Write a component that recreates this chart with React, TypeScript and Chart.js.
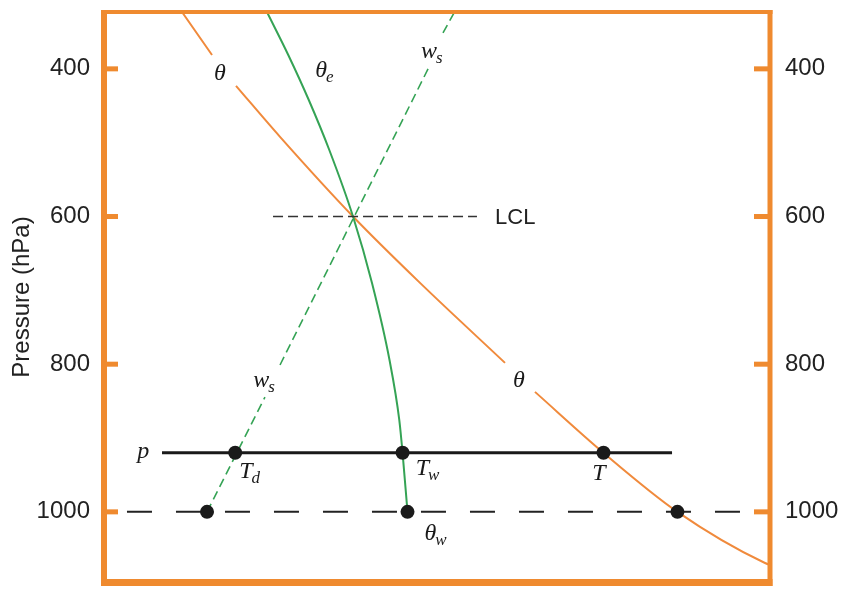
import React, { useEffect, useRef } from 'react';
import { Chart, registerables } from 'chart.js';

Chart.register(...registerables);

// Pressure axis (hPa), drawn top-down
const pressureTicks = [400, 600, 800, 1000];
const pressureTop = 323;
const pressureBottom = 1095;

// Horizontal (temperature-like) axis, unlabelled
const tempMin = 0;
const tempMax = 100;

// Dry adiabat θ (null breaks the line where the θ labels sit)
const thetaT = [11.71, 16.22, 18.0, 19.82, 26.43, 37.39, 47.45, 60.21, 62.5, 64.71, 75.0, 86.1, 99.25, 100.5];
const thetaP = [323, 381.2, null, 423.0, 492.1, 600, 689.9, 798.2, null, 837.5, 920, 1000, 1069.3, 1073.4];

// Moist adiabat θe through the LCL
const thetaET = [24.47, 27.67, 30.75, 33.83, 37.39, 40.24, 42.87, 44.34, 44.83, 45.57];
const thetaEP = [323, 381.2, 442.2, 509.9, 600, 690.1, 794.4, 875.6, 920, 1000];

// Saturation mixing ratio line ws (null breaks the line at the ws labels)
const wsT = [15.47, 24.17, 25.3, 26.43, 48.95, 49.9, 50.9, 52.63];
const wsP = [1000, 844.5, null, 801.1, 394.8, null, 351.4, 323];

// LCL marker line
const lclT = [25.38, 56.0];
const lclP = 600;

// Parcel pressure level p and its three points (Td, Tw, T)
const parcelLineT = [8.71, 85.29];
const parcelP = 920;
const parcelPointsT = [19.7, 44.83, 75.0];

// 1000 hPa reference level and its three points
const surfaceLineT = [3.45, 95.8];
const surfaceP = 1000;
const surfacePointsT = [15.47, 45.57, 86.1];

// Curve / point annotations: main glyph, optional subscript, anchor (temp, pressure)
const annotationMain = ['θ', 'θ', 'θ', 'w', 'w', 'p', 'T', 'T', 'T', 'θ'];
const annotationSub = ['', '', 'e', 's', 's', '', 'd', 'w', '', 'w'];
const annotationT = [17.42, 62.31, 32.6, 48.8, 23.6, 5.9, 21.3, 47.8, 74.32, 49.0];
const annotationP = [415.1, 830.9, 411.0, 385.3, 830.9, 927.1, 954.2, 950.1, 956.9, 1038.2];

const lclLabel = 'LCL';
const lclLabelT = 58.71;

const ORANGE = '#ef8a2f';
const CURVE_ORANGE = '#f08a3c';
const GREEN = '#35a355';
const INK = '#1a1a1a';
const SANS = "'Liberation Sans', Arial, Helvetica, sans-serif";
const SERIF = "'Liberation Serif', 'Times New Roman', 'DejaVu Serif', serif";

const pts = (ts: number[], ps: (number | null)[]) => ts.map((t, i) => ({ x: t, y: ps[i] }));
const flat = (ts: number[], p: number) => ts.map((t) => ({ x: t, y: p }));

const framePlugin = {
  id: 'skewFrame',
  afterDatasetsDraw(chart: any) {
    const { ctx, chartArea, scales } = chart;
    const { left, right, top, bottom } = chartArea;
    const xs = scales.x;
    const ys = scales.y;
    ctx.save();

    // orange frame
    ctx.fillStyle = ORANGE;
    ctx.fillRect(left - 3, top - 2, 6, bottom - top + 6);
    ctx.fillRect(left - 3, top - 2, right - left + 5.5, 4);
    ctx.fillRect(right - 2.5, top - 2, 5, bottom - top + 6);
    ctx.fillRect(left - 3, bottom - 3, right - left + 5.5, 7);

    // inward tick marks on both sides
    for (const v of pressureTicks) {
      const y = ys.getPixelForValue(v);
      ctx.fillRect(left, y - 2.5, 14, 5);
      ctx.fillRect(right - 16, y - 2.5, 16, 5);
    }

    // italic curve / point annotations
    ctx.fillStyle = INK;
    ctx.textBaseline = 'alphabetic';
    annotationMain.forEach((main, i) => {
      const x = xs.getPixelForValue(annotationT[i]);
      const y = ys.getPixelForValue(annotationP[i]);
      ctx.font = `italic 24px ${SERIF}`;
      ctx.textAlign = 'center';
      ctx.fillText(main, x, y);
      const sub = annotationSub[i];
      if (sub) {
        const w = ctx.measureText(main).width;
        ctx.font = `italic 17px ${SERIF}`;
        ctx.textAlign = 'left';
        ctx.fillText(sub, x + w / 2 - 1, y + 5);
      }
    });

    // LCL label
    ctx.font = `22px ${SANS}`;
    ctx.textAlign = 'left';
    ctx.textBaseline = 'middle';
    ctx.fillStyle = '#222';
    ctx.fillText(lclLabel, xs.getPixelForValue(lclLabelT), ys.getPixelForValue(lclP) + 1);

    ctx.restore();
  },
};

export default function App() {
  const canvasRef = useRef<HTMLCanvasElement | null>(null);

  useEffect(() => {
    const canvas = canvasRef.current;
    if (!canvas) return;

    const tickFont = { family: SANS, size: 24 };
    const fixedTicks = (scale: any) => {
      scale.ticks = pressureTicks.map((v) => ({ value: v }));
    };
    const fitTo = (width: number) => (s: any) => {
      s.width = width;
      s.paddingTop = 0;
      s.paddingBottom = 0;
    };

    const chart = new Chart(canvas, {
      type: 'line',
      data: {
        datasets: [
          {
            label: 'parcel points',
            data: flat(parcelPointsT, parcelP),
            showLine: false,
            pointRadius: 7,
            pointBackgroundColor: INK,
            pointBorderWidth: 0,
          },
          {
            label: '1000 hPa points',
            data: flat(surfacePointsT, surfaceP),
            showLine: false,
            pointRadius: 7,
            pointBackgroundColor: INK,
            pointBorderWidth: 0,
          },
          {
            label: 'p',
            data: flat(parcelLineT, parcelP),
            borderColor: INK,
            borderWidth: 3,
            pointRadius: 0,
          },
          {
            label: 'LCL',
            data: flat(lclT, lclP),
            borderColor: '#333',
            borderWidth: 1.5,
            borderDash: [10, 5],
            pointRadius: 0,
          },
          {
            label: '1000 hPa',
            data: flat(surfaceLineT, surfaceP),
            borderColor: '#222',
            borderWidth: 2,
            borderDash: [25, 24],
            pointRadius: 0,
          },
          {
            label: 'θe',
            data: pts(thetaET, thetaEP),
            borderColor: GREEN,
            borderWidth: 2,
            pointRadius: 0,
            cubicInterpolationMode: 'monotone',
          },
          {
            label: 'ws',
            data: pts(wsT, wsP),
            borderColor: GREEN,
            borderWidth: 1.6,
            borderDash: [9, 5],
            pointRadius: 0,
          },
          {
            label: 'θ',
            data: pts(thetaT, thetaP),
            borderColor: CURVE_ORANGE,
            borderWidth: 2,
            pointRadius: 0,
            cubicInterpolationMode: 'monotone',
          },
        ],
      } as any,
      options: {
        animation: false,
        responsive: false,
        maintainAspectRatio: false,
        spanGaps: false,
        layout: { padding: { top: 12, bottom: 7, left: 0, right: 0 } },
        plugins: {
          legend: { display: false },
          tooltip: { enabled: false },
        },
        scales: {
          x: {
            type: 'linear',
            min: tempMin,
            max: tempMax,
            display: false,
          },
          y: {
            type: 'linear',
            position: 'left',
            reverse: true,
            min: pressureTop,
            max: pressureBottom,
            afterBuildTicks: fixedTicks,
            afterFit: fitTo(104),
            grid: { display: false, drawTicks: false },
            border: { display: false },
            ticks: { font: tickFont, color: '#222', padding: 14, callback: (v: any) => String(v) },
            title: {
              display: true,
              text: 'Pressure (hPa)',
              font: { family: SANS, size: 24 },
              color: '#222',
              padding: { top: 8, bottom: 0 },
            },
          },
          y2: {
            type: 'linear',
            position: 'right',
            reverse: true,
            min: pressureTop,
            max: pressureBottom,
            afterBuildTicks: fixedTicks,
            afterFit: fitTo(72),
            grid: { display: false, drawTicks: false },
            border: { display: false },
            ticks: { font: tickFont, color: '#222', padding: 15, callback: (v: any) => String(v) },
          },
        },
      } as any,
      plugins: [framePlugin],
    });

    return () => chart.destroy();
  }, []);

  return (
    <div style={{ position: 'fixed', left: 0, top: 0, width: 842, height: 589, background: '#fff' }}>
      <canvas ref={canvasRef} width={842} height={589} style={{ display: 'block' }} />
    </div>
  );
}
